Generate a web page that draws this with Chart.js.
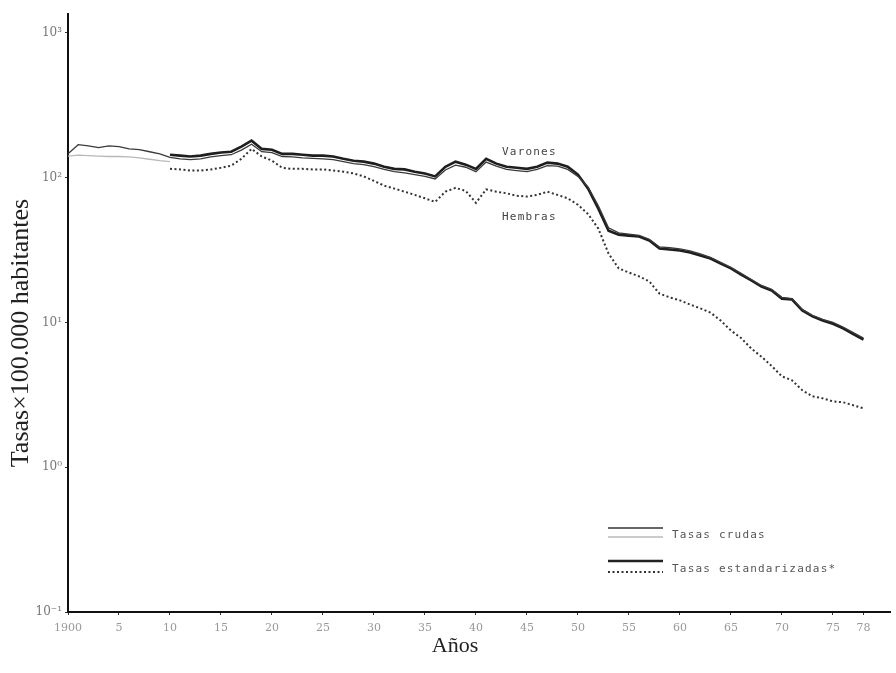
<!DOCTYPE html>
<html>
<head>
<meta charset="utf-8">
<script src="https://cdn.jsdelivr.net/npm/chart.js@4.4.1/dist/chart.umd.min.js"></script>
<style>
  html, body { margin: 0; padding: 0; background: #fff; }
  canvas { display: block; }
</style>
</head>
<body>
<canvas id="grafico" width="896" height="673"></canvas>
<script>
// Tasas de mortalidad x 100.000 habitantes, escala logaritmica
const anioInicio = 1900;
const anioEstandar = 1910;

// Varones, tasas crudas 1900-1978
const varonesCrudas = [
  146, 169, 166, 161, 166, 164, 158, 156, 151, 146,
  138, 135, 133, 135, 139, 142, 144, 155, 170, 151,
  149, 140, 139, 137, 136, 135, 133, 129, 125, 123,
  119, 114, 110, 108, 105, 102, 98, 113, 122, 118,
  110, 128, 120, 114, 112, 110, 114, 121, 120, 114,
  102, 86, 64, 45, 41.5, 40.8, 40, 37.5, 33.2, 32.8,
  32.2, 31.2, 29.8, 28.1, 26, 24, 21.8, 19.8, 18, 16.9,
  14.9, 14.6, 12.3, 11.2, 10.5, 10, 9.3, 8.5, 7.8
];

// Varones, tasas estandarizadas 1910-1978
const varonesEstandar = [
  144, 142, 140, 142, 146, 149, 151, 164, 180, 158,
  156, 146, 146, 144, 142, 142, 140, 135, 131, 129,
  125, 119, 115, 114, 110, 107, 102, 119, 129, 123,
  115, 135, 125, 119, 117, 115, 119, 127, 125, 119,
  105, 84, 61, 43, 40.4, 39.8, 39.2, 36.8, 32.4, 31.9,
  31.4, 30.4, 29, 27.6, 25.5, 23.6, 21.4, 19.5, 17.7, 16.6,
  14.6, 14.4, 12.1, 11, 10.3, 9.8, 9.1, 8.3, 7.6
];

// Hembras, tasas crudas 1900-1910
const hembrasCrudas = [141, 143, 142, 141, 140, 140, 139, 137, 134, 131, 129];

// Hembras, tasas estandarizadas 1910-1978
const hembrasEstandar = [
  115, 114, 112, 112, 114, 117, 121, 135, 158, 140,
  131, 117, 115, 115, 114, 114, 112, 110, 107, 102,
  95, 88, 84, 80, 76, 72, 68, 80, 85, 81,
  67, 83, 80, 78, 75, 74, 76, 80, 76, 72,
  65, 56, 44.5, 29.9, 23.6, 22.1, 20.8, 19.2, 15.8, 14.9,
  14.2, 13.3, 12.5, 11.7, 10.3, 8.8, 7.8, 6.6, 5.8, 5,
  4.24, 3.98, 3.4, 3.09, 2.99, 2.85, 2.81, 2.68, 2.55
];

const ticksAnios = [1900, 1905, 1910, 1915, 1920, 1925, 1930, 1935, 1940, 1945,
  1950, 1955, 1960, 1965, 1970, 1975, 1978];
const etiquetasAnios = ["1900", "5", "10", "15", "20", "25", "30", "35", "40", "45",
  "50", "55", "60", "65", "70", "75", "78"];
const ticksTasas = [0.1, 1, 10, 100, 1000];
const etiquetasTasas = ["10\u207B\u00B9", "10\u2070", "10\u00B9", "10\u00B2", "10\u00B3"];

const puntos = (serie, desde) => serie.map((v, i) => ({ x: desde + i, y: v }));

const serif = "'Liberation Serif', 'DejaVu Serif', serif";
const serifAncha = "'DejaVu Serif', serif";
const mono = "'DejaVu Sans Mono', 'Liberation Mono', monospace";

// textos sobre el grafico: rotulos de series, leyenda y titulos de ejes
const textos = {
  id: "textos",
  afterDraw(chart) {
    const ctx = chart.ctx;
    ctx.save();
    ctx.textBaseline = "middle";
    ctx.font = "11px " + mono;
    ctx.letterSpacing = "1.2px";
    ctx.fillStyle = "#444";
    ctx.fillText("Varones", 502, 152);
    ctx.fillText("Hembras", 502, 217);

    // leyenda
    ctx.lineWidth = 1.3;
    ctx.strokeStyle = "#333";
    ctx.beginPath(); ctx.moveTo(608, 528); ctx.lineTo(663, 528); ctx.stroke();
    ctx.strokeStyle = "#bbb";
    ctx.beginPath(); ctx.moveTo(608, 537); ctx.lineTo(663, 537); ctx.stroke();
    ctx.lineWidth = 2.5;
    ctx.strokeStyle = "#222";
    ctx.beginPath(); ctx.moveTo(608, 561); ctx.lineTo(663, 561); ctx.stroke();
    ctx.lineWidth = 2;
    ctx.setLineDash([2, 2.5]);
    ctx.strokeStyle = "#333";
    ctx.beginPath(); ctx.moveTo(608, 572); ctx.lineTo(663, 572); ctx.stroke();
    ctx.setLineDash([]);
    ctx.fillStyle = "#555";
    ctx.fillText("Tasas crudas", 672, 535);
    ctx.fillText("Tasas estandarizadas*", 672, 569);
    ctx.letterSpacing = "0px";

    ctx.fillStyle = "#222";
    ctx.textAlign = "center";
    ctx.font = "22px " + serif;
    ctx.fillText("Años", 455, 646);

    ctx.translate(21, 333);
    ctx.rotate(-Math.PI / 2);
    ctx.font = "26px " + serif;
    ctx.fillText("Tasas\u00D7100.000 habitantes", 0, 0);
    ctx.restore();
  }
};

new Chart(document.getElementById("grafico"), {
  type: "line",
  data: {
    datasets: [
      {
        label: "Varones, tasas crudas",
        data: puntos(varonesCrudas, anioInicio),
        borderColor: "#3a3a3a",
        borderWidth: 1.3
      },
      {
        label: "Varones, tasas estandarizadas",
        data: puntos(varonesEstandar, anioEstandar),
        borderColor: "#1e1e1e",
        borderWidth: 2.6
      },
      {
        label: "Hembras, tasas crudas",
        data: puntos(hembrasCrudas, anioInicio),
        borderColor: "#b8b8b8",
        borderWidth: 1.3
      },
      {
        label: "Hembras, tasas estandarizadas",
        data: puntos(hembrasEstandar, anioEstandar),
        borderColor: "#333",
        borderWidth: 2,
        borderDash: [2, 2.5]
      }
    ]
  },
  options: {
    responsive: false,
    animation: false,
    devicePixelRatio: 1,
    layout: { padding: { top: 14, right: 6, left: 0, bottom: 0 } },
    elements: { point: { radius: 0 }, line: { tension: 0, fill: false } },
    plugins: { legend: { display: false }, tooltip: { enabled: false } },
    scales: {
      x: {
        type: "linear",
        min: 1900,
        max: 1980.6,
        afterBuildTicks: (scale) => { scale.ticks = ticksAnios.map(v => ({ value: v })); },
        afterFit: (scale) => { scale.height = 61; },
        border: { color: "#111", width: 2 },
        grid: { display: true, drawOnChartArea: false, tickLength: 3, color: "#333" },
        ticks: {
          autoSkip: false,
          maxRotation: 0,
          color: "#999",
          font: { family: serifAncha, size: 11 },
          padding: 7,
          callback: (v) => etiquetasAnios[ticksAnios.indexOf(v)] ?? ""
        }
      },
      y: {
        type: "logarithmic",
        min: 0.1,
        max: 1350,
        afterBuildTicks: (scale) => { scale.ticks = ticksTasas.map(v => ({ value: v })); },
        afterFit: (scale) => { scale.width = 68; },
        border: { color: "#111", width: 2 },
        grid: { display: true, drawOnChartArea: false, tickLength: 3, color: "#333" },
        ticks: {
          color: "#777",
          font: { family: serifAncha, size: 12 },
          padding: 3,
          callback: (v) => etiquetasTasas[ticksTasas.indexOf(v)] ?? ""
        }
      }
    }
  },
  plugins: [textos]
});
</script>
</body>
</html>
